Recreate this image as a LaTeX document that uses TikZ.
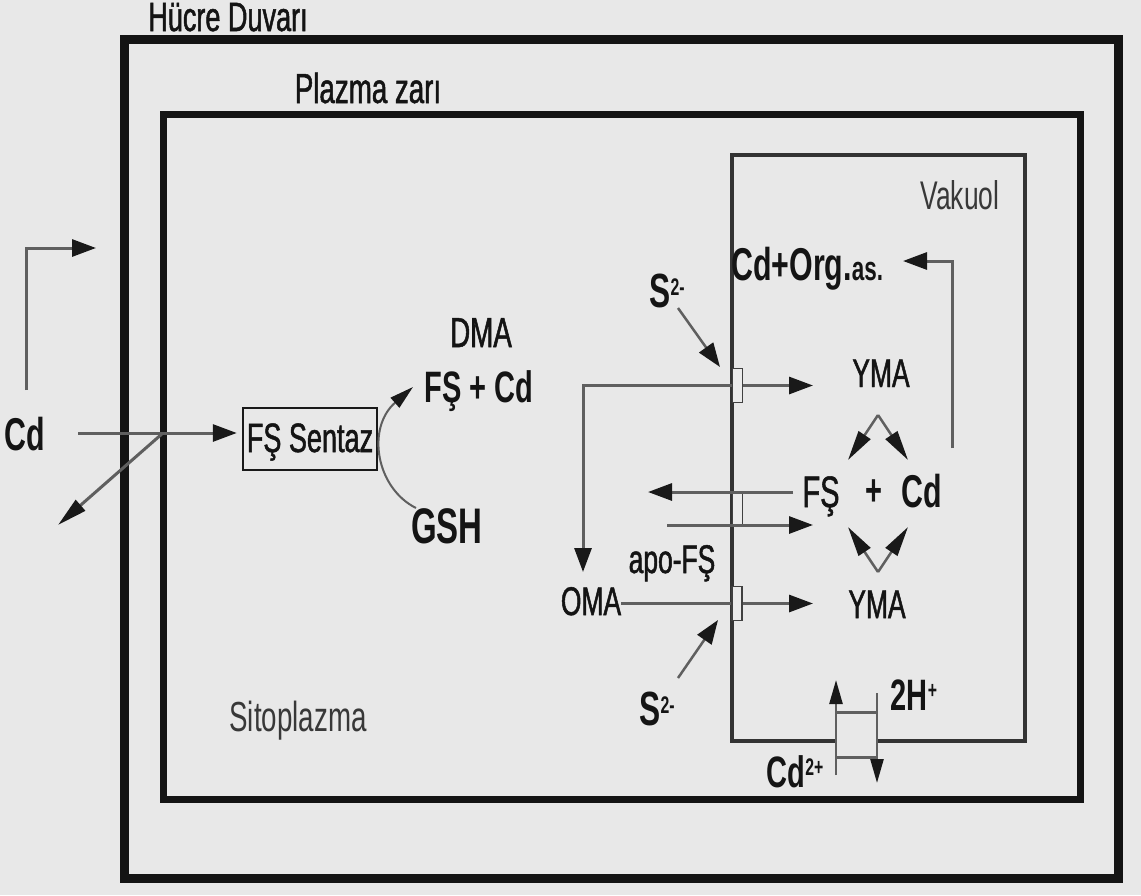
\documentclass[tikz,border=0pt]{standalone}
\usepackage{fontspec}
\setmainfont[FakeStretch=0.66]{Liberation Sans}
\newfontfamily\medfont[FakeStretch=0.66,FakeBold=1.2]{Liberation Sans}
\usetikzlibrary{arrows.meta}
\newcommand{\fsz}[1]{\fontsize{#1}{#1}\selectfont}
\definecolor{bgc}{RGB}{232,232,232}
\definecolor{lnc}{RGB}{95,95,95}
\begin{document}
\begin{tikzpicture}[x=1pt,y=-1pt,
  wall/.style={line width=9pt,draw=black!92},
  memb/.style={line width=7pt,draw=black!92},
  vac/.style={line width=3.5pt,draw=black!80},
  con/.style={line width=3pt,draw=lnc,-{Triangle[length=24pt,width=17pt,color=black!90]}},
  cond/.style={line width=2.5pt,draw=lnc,-{Triangle[length=30pt,width=14pt,color=black!90]}},
  conthin/.style={line width=2pt,draw=lnc,-{Triangle[length=24pt,width=13pt,color=black!90]}},
  plain/.style={line width=3pt,draw=lnc},
  tbox/.style={draw=black!75,line width=1.5pt,fill=white!92!black,minimum width=10pt,minimum height=34pt,inner sep=0pt},
  lbl/.style={inner sep=0pt,anchor=base,text=black!92},
  reg/.style={lbl,font=\fsz{40}\medfont},
  thin/.style={lbl,font=\fsz{40},text=black!78},
  bld/.style={lbl,font=\fsz{44}\bfseries},
]
\useasboundingbox (0,0) rectangle (1141,895);
\fill[bgc] (0,0) rectangle (1141,895);

% membranes
\draw[wall] (124,39) rectangle (1118,878);
\draw[memb] (163,114) rectangle (1080,799);
\draw[vac] (836,741) -- (732,741) -- (732,155) -- (1025,155) -- (1025,741) -- (877,741);

% titles
\node[reg,font=\fsz{41}\medfont] (hucre) at (228,31) {Hücre Duvarı};
\node[reg,font=\fsz{42}\medfont] (plazma) at (368,103) {Plazma zarı};
\node[thin] (vakuol) at (960,209) {Vakuol};
\node[thin,font=\fsz{42}] (sito) at (298,731) {Sitoplazma};

% left part
\node[bld,font=\fsz{46}\bfseries] (cdL) at (25,450) {Cd};
\node[draw=black!90,line width=2.5pt,minimum width=134pt,minimum height=62pt,inner sep=0pt] (sentaz) at (310,439) {};
\node[reg,font=\fsz{41}\medfont] (sentazt) at (310,452) {FŞ Sentaz};
\node[reg,font=\fsz{42}\medfont] (dma) at (481,347) {DMA};
\node[bld] (fscd) at (479,402) {FŞ + Cd};
\node[bld,font=\fsz{50}\bfseries] (gsh) at (447,543) {GSH};

\coordinate (lA) at (26,390);
\coordinate (lB) at (96,248);
\draw[con] (lA) |- (lB);
\coordinate (cdS) at (78,433);
\draw[con,shorten >=5pt] (cdS) -- (sentaz.west|-cdS);
\coordinate (dg0) at (163,433);
\coordinate (dg1) at (58,525);
\draw[cond,line width=3pt] (dg0) -- (dg1);
\coordinate (gshIn) at (416,508);
\coordinate (fscdIn) at (413,387);
\draw[conthin] (gshIn) .. controls (376,488) and (366,428) .. (fscdIn);

% vacuole transporters
\node[tbox] (t1) at (737.5,385.5) {};
\node[tbox] (t2) at (737.5,508.5) {};
\node[tbox] (t3) at (737,603.5) {};

% vacuole labels
\node[lbl,font=\fsz{48}\bfseries] (s2a) at (667,307) {S\raisebox{12pt}{\fsz{24}2-}};
\node[lbl,anchor=base west,font=\fsz{46}\bfseries] (orgas) at (731,280) {Cd+Org.{\fsz{34}as.}};
\node[reg] (yma1) at (881,387) {YMA};
\node[reg,font=\fsz{44}\medfont] (fsv) at (821,507) {FŞ};
\node[bld] (plus) at (874,505) {+};
\node[bld,font=\fsz{46}\bfseries] (cdv) at (922,507) {Cd};
\node[reg] (apo) at (672,573) {apo-FŞ};
\node[reg] (oma) at (591,615) {OMA};
\node[reg] (yma2) at (877,618) {YMA};
\node[lbl,font=\fsz{48}\bfseries] (s2b) at (657,725) {S\raisebox{12pt}{\fsz{24}2-}};
\node[bld] (h2) at (914,710) {2H\raisebox{12pt}{\fsz{24}+}};
\node[bld] (cd2) at (795,787) {Cd\raisebox{12pt}{\fsz{24}2+}};

% vacuole arrows
\coordinate (s2aS) at (678,308);
\coordinate (s2aT) at (720,367);
\draw[con,line width=2.5pt] (s2aS) -- (s2aT);
\coordinate (omaT) at (583,572);
\draw[con] (t1.west) -| (omaT);
\coordinate (y1T) at (813,385.5);
\draw[con] (t1.east) -- (y1T);

\coordinate (fsL0) at (793,492);
\coordinate (fsL1) at (648,492);
\draw[con] (fsL0) -- (fsL1);
\coordinate (fsR0) at (667,525);
\coordinate (fsR1) at (813,525);
\draw[con] (fsR0) -- (fsR1);

\draw[plain] (oma.east|-t3) -- (t3.west);
\coordinate (y2T) at (813,603.5);
\draw[con] (t3.east) -- (y2T);

\coordinate (s2bS) at (678,678);
\coordinate (s2bT) at (718,620);
\draw[con,line width=2.5pt] (s2bS) -- (s2bT);

\coordinate (orgS) at (952,448);
\coordinate (orgT) at (903,261);
\draw[con] (orgS) |- (orgT);

% diamonds
\coordinate (ap1) at (878,415);
\coordinate (d1l) at (848,460);
\coordinate (d1r) at (908,460);
\draw[cond] (ap1) -- (d1l);
\draw[cond] (ap1) -- (d1r);
\coordinate (ap2) at (878,572);
\coordinate (d2l) at (848,527);
\coordinate (d2r) at (908,527);
\draw[cond] (ap2) -- (d2l);
\draw[cond] (ap2) -- (d2r);

% antiporter
\coordinate (aU0) at (836,775);
\coordinate (aU1) at (836,680);
\coordinate (aD0) at (877,693);
\coordinate (aD1) at (877,783);
\draw[conthin,line width=2.5pt] (aU0) -- (aU1);
\draw[conthin,line width=2.5pt] (aD0) -- (aD1);
\draw[plain] (aU0|-0,712) -- (aD0|-0,712);
\draw[plain] (aU0|-0,757) -- (aD0|-0,757);
\end{tikzpicture}
\end{document}
